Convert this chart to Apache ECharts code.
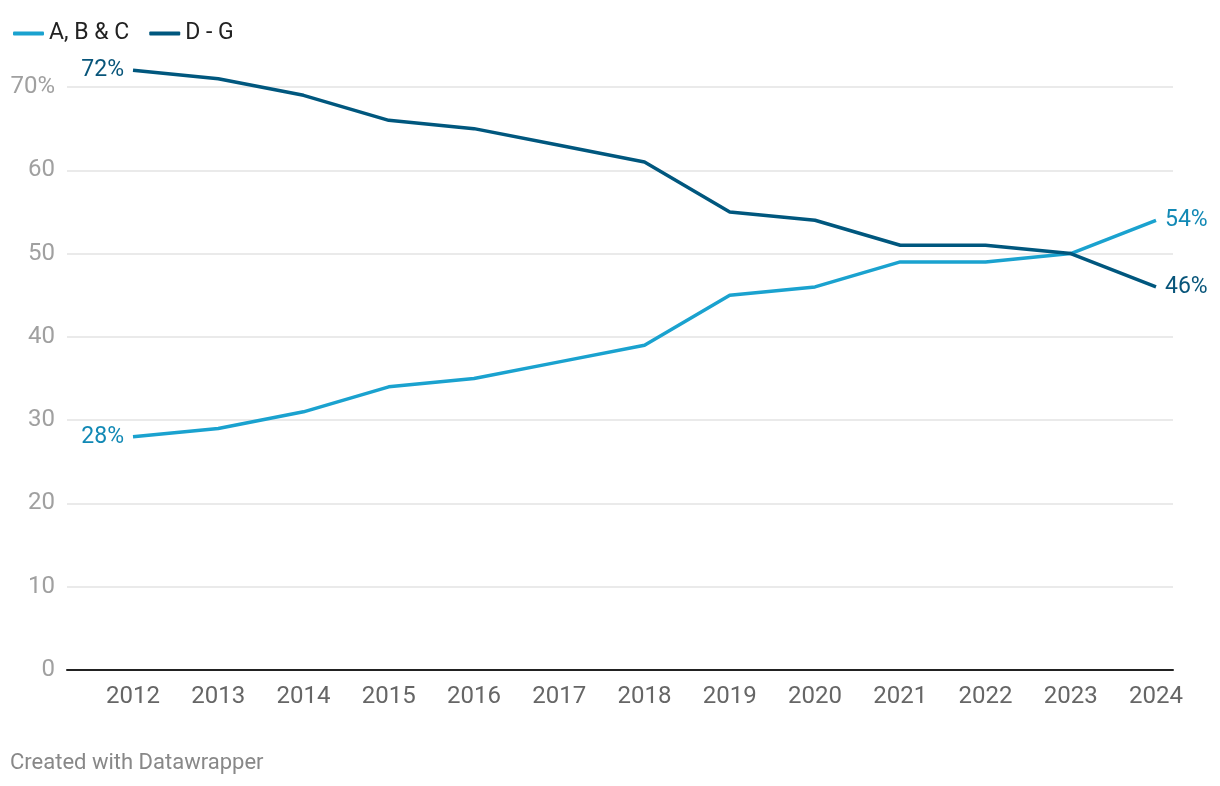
<!DOCTYPE html>
<html>
<head>
<meta charset="utf-8">
<script src="https://cdn.jsdelivr.net/npm/echarts@6/dist/echarts.min.js"></script>
<style>
html,body{margin:0;padding:0;background:#fff;}
#chart{width:1220px;height:786px;}
</style>
</head>
<body>
<div id="chart"></div>
<script>
const years = ['2012','2013','2014','2015','2016','2017','2018','2019','2020','2021','2022','2023','2024'];
const abc = [28,29,31,34,35,37,39,45,46,49,49,50,54];
const dg = [72,71,69,66,65,63,61,55,54,51,51,50,46];
const seriesNames = ['A, B & C','D - G'];
const yTicks = [0,10,20,30,40,50,60,70];

const lightLine = '#1aa2cf', darkLine = '#00577e';
const lightLabel = '#1289b5', darkLabel = '#08557a';
const FONT = 'Roboto';
const FS = 24;

function withEndLabels(arr, color) {
  return arr.map((v, i) => {
    const last = i === arr.length - 1;
    if (i === 0 || last) {
      return {value: v, label: {show: true, position: last ? 'right' : 'left', distance: 9,
        color: color, fontSize: FS - 1, fontFamily: FONT, formatter: '{c}%'}};
    }
    return v;
  });
}

const chart = echarts.init(document.getElementById('chart'), null, {renderer: 'canvas'});
chart.setOption({
  animation: false,
  backgroundColor: '#fff',
  textStyle: {fontFamily: FONT},
  legend: {
    left: 8, top: 17,
    itemWidth: 31, itemHeight: 4, itemGap: 20,
    icon: 'roundRect',
    textStyle: {fontSize: FS - 1, color: '#222', fontFamily: FONT},
    data: seriesNames
  },
  graphic: [{
    type: 'text', left: 10, top: 752,
    style: {text: 'Created with Datawrapper', fontSize: 22, fill: '#888', fontFamily: FONT}
  }],
  grid: [
    {left: 133, right: 64, top: 87, bottom: 116},
    {left: 67, right: 47, top: 87, bottom: 116}
  ],
  xAxis: [
    {type: 'category', gridIndex: 0, data: years, boundaryGap: false,
     axisLine: {show: false}, axisTick: {show: false},
     axisLabel: {color: '#666', fontSize: FS, fontFamily: FONT, margin: 15}},
    {type: 'value', gridIndex: 1, min: 0, max: 1, show: true,
     axisLine: {show: true, onZero: true, lineStyle: {color: '#222', width: 2}},
     axisTick: {show: false}, axisLabel: {show: false}, splitLine: {show: false}}
  ],
  yAxis: [
    {type: 'value', gridIndex: 0, min: 0, max: 70, interval: 10, show: false},
    {type: 'value', gridIndex: 1, min: 0, max: 70, interval: 10,
     axisLine: {show: false}, axisTick: {show: false},
     axisLabel: {color: '#a0a0a0', fontSize: FS, fontFamily: FONT, margin: 12,
       formatter: v => v === 70 ? '70%' : String(v)},
     splitLine: {show: true, lineStyle: {color: '#e3e3e3', width: 1.5}}}
  ],
  series: [
    {name: seriesNames[0], type: 'line', xAxisIndex: 0, yAxisIndex: 0,
     data: withEndLabels(abc, lightLabel),
     showSymbol: true, symbol: 'circle', symbolSize: 0, clip: false, z: 3,
     lineStyle: {color: lightLine, width: 3.5}, itemStyle: {color: lightLine}},
    {name: seriesNames[1], type: 'line', xAxisIndex: 0, yAxisIndex: 0,
     data: withEndLabels(dg, darkLabel),
     showSymbol: true, symbol: 'circle', symbolSize: 0, clip: false, z: 4,
     lineStyle: {color: darkLine, width: 3.5}, itemStyle: {color: darkLine}}
  ]
});
</script>
</body>
</html>
